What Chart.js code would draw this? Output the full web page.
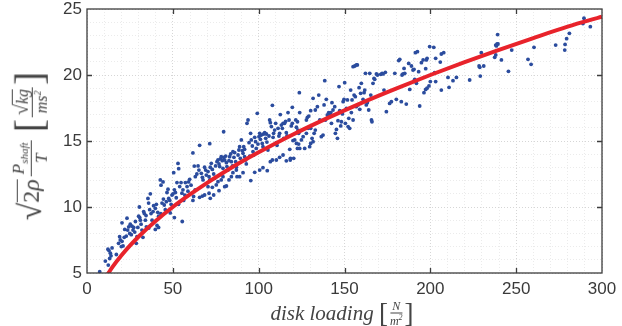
<!DOCTYPE html>
<html>
<head>
<meta charset="utf-8">
<script src="https://cdn.jsdelivr.net/npm/chart.js@4"></script>
<style>
  body { margin: 0; background: #fff; }
  #wrap { position: relative; width: 622px; height: 326px; }
  #wrap canvas { position: absolute; left: 0; top: 0; }
  .math { position: absolute; white-space: nowrap; color: #444; font-family: 'Liberation Serif', 'DejaVu Serif', serif; display: flex; align-items: center; }
  .it { font-style: italic; }
  .frac { display: inline-flex; flex-direction: column; align-items: center; line-height: 1; margin: 0 2px; }
  .frac .num { border-bottom: 1px solid #444; padding: 0 2px 1px; }
  .frac .den { padding-top: 1px; }
  .brk { font-weight: 200; line-height: 1; }
  .rad { border-top: 1px solid #444; line-height: 1; padding-top: 1px; }
  #xtitle { left: 342px; top: 313px; transform: translate(-50%, -50%); font-size: 21px; }
  #ytitle { left: 30px; top: 146px; transform: translate(-50%, -50%) rotate(-90deg); font-size: 24px; }
</style>
</head>
<body>
<div id="wrap">
  <canvas id="loadingChart" width="622" height="326"></canvas>
  <div id="xtitle" class="math">
    <span class="it">disk&nbsp;loading</span>&nbsp;
    <span class="brk" style="font-size:27px">[</span>
    <span class="frac it" style="font-size:12px"><span class="num">N</span><span class="den">m<sup style="font-size:8px;line-height:0">2</sup></span></span>
    <span class="brk" style="font-size:27px">]</span>
  </div>
  <div id="ytitle" class="math">
    <span style="font-size:32px;line-height:1;font-weight:200">&radic;</span><span class="rad">2<span class="it">&rho;</span></span>
    <span class="frac it" style="font-size:17px;margin-left:3px"><span class="num">P<sub style="font-size:11px">shaft</sub></span><span class="den">T</span></span>
    &nbsp;
    <span class="brk" style="font-size:40px">[</span>
    <span class="frac it" style="font-size:16px"><span class="num"><span style="font-style:normal;font-size:20px">&radic;</span><span class="rad">kg</span></span><span class="den">ms<sup style="font-size:10px;line-height:0">2</sup></span></span>
    <span class="brk" style="font-size:40px">]</span>
  </div>
</div>
<script>
// Fitted curve (red)
const fitLoading = [12, 15, 20, 25, 30, 40, 50, 60, 70, 80, 90, 100, 120, 140, 160, 180, 200, 220, 240, 260, 280, 300];
const fitValue = [4.9, 5.48, 6.32, 7.07, 7.75, 8.94, 10.0, 10.95, 11.83, 12.65, 13.42, 14.14, 15.49, 16.73, 17.89, 18.97, 20.0, 20.98, 21.91, 22.8, 23.66, 24.42];

// Measured samples [disk loading, value]
const pointsLow = [
  [7.4,5.1],[10.7,5.9],[12.4,5.6],[12.2,6.8],[12.8,6.7],[13.6,6.5],[14,6.3],[13.2,6.1],[14.6,6.9],[17.1,6.4],
  [18.4,7.25],[19,7.75],[19.4,7.5],[20.4,7.4],[21,7.05],[20,7],[21.7,7.7],[20.4,8.8],[22.9,7.8],[22,8.3],
  [23.7,8.25],[24.3,8.5],[25.2,8.7],[26.2,8.55],[27.2,8.45],[26.8,8.25],[27.8,8.1],[24.9,8],[23.3,9.15],[29.1,7.75],[28.7,7.25],
  [25.8,7.9],[28.2,8.9],[29.6,8.45],[30.1,9.3],[30.7,9.2],[31.1,9],[31.5,8.7],[30.5,10],[33,9.65],[33.4,9.5],[34,9],[34.6,8.5],[32,8.25],[32.6,7.7],
  [34.4,9.35],[36,8.4],[35.5,10.65],[35.9,10.3],[36.9,11],[36.5,9.8],[37.3,9.5],[37.9,9],[38.5,9.65],[38.8,10.1],[39.8,9.9],[40.4,10.2],
  [41.2,9.6],[41.7,9.3],[40.8,8.6],[39.8,8.3],[41.7,8.45],[43,9.5],[44.5,10.6],[46.2,10.4],[49,10.2],
  [42.7,12.05],[44.3,11.9],[43.1,11.65],[43.7,10.3],[45,10.15],[45.6,9.8],[46.6,11.1],[47.2,11.35],[47.6,10.65],[48.2,10.5],
  [48.5,9.55],[49.5,10.9],[50.1,11],[50.5,12.6],[50.9,11.3],[51.5,11.1],[50.9,9.2],[52,10.7],[52.4,11.85],[53,13.3],[53.4,12.9],[53.3,10.2],
  [54,11.55],[54.8,11.85],[55.3,11.05],[55.9,11.3],[56.3,10.5],[55.5,8.9],[57,10.9],[57.3,11.85],[58.3,11.55],[58.8,11.2],[59.2,11.9],
  [59.8,12.1],[60.6,11.65],[61.7,10.5],[62.1,10.8],[62.5,13.1],[61.7,14.1],[63.1,12.3],[63,11.3],[64,12.5]
];

const pointsMid = [
  [64.7,13.11],[65.2,12.8],[65.6,14.67],[66.6,12.55],[67.2,12.25],[67.6,12.05],[68.5,13.01],[69.1,12.8],[69.5,12.42],[70.5,12.68],
  [71.1,12.3],[71.5,12.05],[71.5,14.8],[71.8,13.01],[72.4,13.31],[73,12.85],[73.8,12.5],[74.4,12.17],[74.9,13.11],[75.7,13.43],
  [76.3,13.56],[76.9,13.26],[77.3,13.06],[77.7,13.64],[78.2,13.81],[78.8,13.51],[79.2,12.93],[79.6,13.76],[79.6,15.7],[80.2,13.56],
  [80.8,13.86],[81.2,13.36],[81.5,13.06],[82.1,12.8],[82.7,13.51],[83.1,13.81],[83.7,14.02],[84.1,13.43],[84.7,13.11],[85,14.19],
  [85.6,13.76],[86,14.12],[86.6,13.43],[87,13.01],[87.4,12.3],[88,13.94],[88.5,14.32],[88.9,14.57],[89.3,13.69],[89.9,15.08],
  [90.5,14.27],[90.9,14.07],[91.3,14.57],[91.8,13.81],[92.4,13.56],[92.8,13.26],[93.2,16.34],[93.8,16.59],[91.8,14.37],[94.4,14.87],
  [94.8,13.86],[95.3,15.58],[95.7,15.08],[96.3,14.62],[96.7,14.19],[97.1,13.94],[97.7,15.28],[98.2,14.95],[98.6,14.44],[99.2,17.1],
  [99.6,14.77],[100.2,15.33],[100.6,15.58],[101,15.13],[101.5,15.45],[102.1,14.82],[102.5,14.57],[102.9,15.53],[103.5,15.63],[104.1,15.2],
  [104.5,15.53],[104.8,14.92],[105.4,14.32],[106,15.38],[106.4,16.59],[106.8,16.39],[107.4,16.09],[108,17.7],[108.4,15.28],[108.7,15.58],
  [109.3,15.83],[109.9,16.34],[110.3,14.87],[110.7,14.67],[111.3,15.96],[111.8,15.38],[112.2,15.58],[112.6,17],[113.2,16.21],[113.8,15.96],
  [114.2,16.34],[114.6,15.2],[115.1,16.34],[115.7,16.49],[116.1,15.63],[116.5,15.38],[117.1,17.15],[117.7,16.59],[118.1,14.37],[118.4,13.56],
  [119,16.14],[119.6,16.34],[119.6,17.55],[120,15.03],[120.4,13.69],
  [70.5,11.54],[71.1,11.04],[71.8,10.66],[73,11.49],[73.8,10.91],[75.3,11.67],[76.3,11.92],[76.9,11.24],[78.2,12.05],[79.2,12.3],
  [80.2,11.54],[81.2,11.59],[82.7,12.05],[84.1,12.3],[85,12.6],[87,12.8],[88.9,12.3],[90.9,12.6],[65.6,10.73],[67.2,10.83],[68.5,10.91],
  [95.4,12],[97.7,12.63],[100.6,12.8],[102.5,12.98],[105,12.75],[106.8,13.43],[108,13.56],[110.3,13.56],[112.2,13.76],[114.2,13.94],
  [116.1,13.5],[118.5,13.69]
];

const pointsHigh = [
  [121.6,16.6],[122.6,16.46],[122,16.04],[122.9,15.83],[123.3,15.58],[121,15.08],[122,14.82],[122.6,14.44],[123.3,14.77],[123.9,14.44],
  [124.9,15.08],[125.9,15.33],[126.8,14.44],[127.8,15.58],[128.8,15.96],[129.7,14.57],[130.3,14.82],[131.1,15.2],[131.7,14.95],[132.3,15.58],
  [133,15.83],[130.3,15.96],[123.9,17.15],[123.7,18.66],[127.8,16.59],[128.4,16.79],[129.2,16.89],[130.3,17.3],[131.7,18.23],[133,17.35],
  [134.2,17.6],[135,18.48],[135.6,16.59],[136.5,15.33],[137.5,15.45],[138.5,19.57],[138.1,17.73],[138.9,16.59],[139.4,18.16],[140,16.97],
  [140.8,17.15],[141.4,16.97],[142,17.15],[142.4,16.34],[142.7,17.9],[143.3,17.35],[144.3,17.6],[144.7,15.58],[145.3,15.88],[145.9,15.2],
  [146.2,16.54],[146.8,19.12],[147.2,17.3],[147.8,16.14],[148.2,16.46],[148.8,17.05],[149.2,17.98],[149.7,18.16],[150.1,19.42],[150.5,16.34],
  [151.1,17.47],[151.7,18.11],[152.1,16.09],[152.5,16.72],[153,15.96],[153.6,18.86],[154,17.15],[154.4,18.11],[155,16.59],[155.6,18.48],
  [155,20.63],[156,20.68],[156.9,20.76],[157.5,20.76],[156.3,18.36],[156.9,17.6],[157.9,17.73],[158.5,19.04],[158.9,17.4],[159.4,18.61],
  [159.8,19.37],[160.8,18.16],[161.4,18.66],[161.8,18.86],[162.2,20.13],[162.7,17.73],[163.3,17.9],[164.1,17.35],[164.7,20.13],[165.3,18.48],
  [165.7,16.59],[166,16.46],[166.6,19.37],[167.2,19.75],[167.6,19.67],[168.6,20.08],[169.2,20],[171.1,20.05],[171.9,20.13],[172.5,20.08],
  [173,18.86],[173.8,20.2],[174.4,17.22],[176.3,17.85],[177.3,17.98],[179.3,20.13],[180.2,18.16],[181.6,21.09],[182.2,21.19],[183.1,17.98],
  [183.5,20],[184.1,20.08],[184.7,20.5],[185.1,20.13],[186,17.8],[187.4,20.88],[188,18.91],[189,20.68],[189.9,20.38],[190.5,20.43],
  [190.9,19.67],[191.3,21.69],[192.5,21.77],[191.9,19.37],[193.2,20.25],[193.8,17.65],[194.8,20.93],[195.8,21.14],[196.3,18.66],
  [197.3,20.48],[198.1,21.26],[197.7,21.14],[199.6,22.15],[202,22.1],[203.1,21.26],[205.8,20.98],[206.4,21.59],[207.8,21.69],[197.3,18.91],
  [198.1,19],[202.5,20.18],[199.2,19.17],[200,19.5],[203.1,19.5],[206.4,18.86],[210.3,19.82],[210.9,19.07],[213.2,19.57],[215.2,19.82],
  [222.9,19.62],[228.4,20.68],[228.8,20.58],[229.1,19.92],[229.7,21.69],[231.1,20.68],[238.1,22.27],[238.9,22.35],[239.4,22.35],[238.5,22.2],
  [239.2,23.06],[237.5,21.34],[238.1,21.52],[241.4,21.14],[245.5,20.28],[247.4,21.89],[256.9,21.19],[258.7,20.81],[260.4,22.1],[273,22.27],
  [278.5,22.32],[278.3,21.89],[279.4,22.75],[281,23.16],[288.9,23.9],[289.5,24.3],[293.2,23.66]
];

const xMajor = [50, 100, 150, 200, 250];
const yMajor = [10, 15, 20];

// Box frame with inward ticks, like the original figure
const framePlugin = {
  id: 'frame',
  afterDraw(chart) {
    const { ctx, chartArea: a, scales: { x, y } } = chart;
    ctx.save();
    ctx.strokeStyle = '#3d3d3d';
    ctx.lineWidth = 1.3;
    ctx.strokeRect(a.left, a.top, a.right - a.left, a.bottom - a.top);
    ctx.beginPath();
    xMajor.forEach(v => {
      const px = Math.round(x.getPixelForValue(v)) + 0.5;
      ctx.moveTo(px, a.bottom); ctx.lineTo(px, a.bottom - 5);
      ctx.moveTo(px, a.top); ctx.lineTo(px, a.top + 5);
    });
    yMajor.forEach(v => {
      const py = Math.round(y.getPixelForValue(v)) + 0.5;
      ctx.moveTo(a.left, py); ctx.lineTo(a.left + 5, py);
      ctx.moveTo(a.right, py); ctx.lineTo(a.right - 5, py);
    });
    ctx.stroke();
    ctx.restore();
  }
};

document.addEventListener('DOMContentLoaded', () => {
  const ctx = document.getElementById('loadingChart').getContext('2d');
  const samples = pointsLow.concat(pointsMid, pointsHigh).map(p => ({ x: p[0], y: p[1] }));
  const fit = fitLoading.map((v, i) => ({ x: v, y: fitValue[i] }));
  const tickFont = { family: "'Liberation Sans', Arial, sans-serif", size: 17, lineHeight: 1 };

  new Chart(ctx, {
    type: 'scatter',
    data: {
      datasets: [{
        data: fit,
        showLine: true,
        borderColor: '#e8232b',
        borderWidth: 4,
        pointRadius: 0,
        cubicInterpolationMode: 'monotone',
        clip: 0,
        order: 0
      }, {
        data: samples,
        backgroundColor: '#2b4c9e',
        borderWidth: 0,
        pointRadius: 1.9,
        order: 1
      }]
    },
    options: {
      responsive: false,
      animation: false,
      layout: { padding: { top: 9, right: 20, left: 0, bottom: 0 } },
      plugins: { legend: { display: false }, tooltip: { enabled: false } },
      scales: {
        x: {
          min: 0, max: 300,
          afterFit: s => { s.height = 53; s.paddingLeft = 0; s.paddingRight = 0; },
          border: { display: false, dash: [1, 2] },
          grid: {
            drawTicks: false,
            color: c => (c.tick && c.tick.value % 50 === 0) ? '#d6d6d6' : '#ebebeb'
          },
          ticks: {
            stepSize: 10, autoSkip: false, maxRotation: 0, padding: 8,
            color: '#3a3a3a', font: tickFont,
            callback: v => (v % 50 === 0 ? v : '')
          }
        },
        y: {
          min: 5, max: 25,
          afterFit: s => { s.width = 87; s.paddingTop = 0; s.paddingBottom = 0; },
          border: { display: false, dash: [1, 2] },
          grid: {
            drawTicks: false,
            color: c => (c.tick && c.tick.value % 5 === 0) ? '#d6d6d6' : '#ebebeb'
          },
          ticks: {
            stepSize: 1, autoSkip: false, padding: 5,
            color: '#3a3a3a', font: tickFont,
            callback: v => (v % 5 === 0 ? v : '')
          }
        }
      }
    },
    plugins: [framePlugin]
  });
});
</script>
</body>
</html>
